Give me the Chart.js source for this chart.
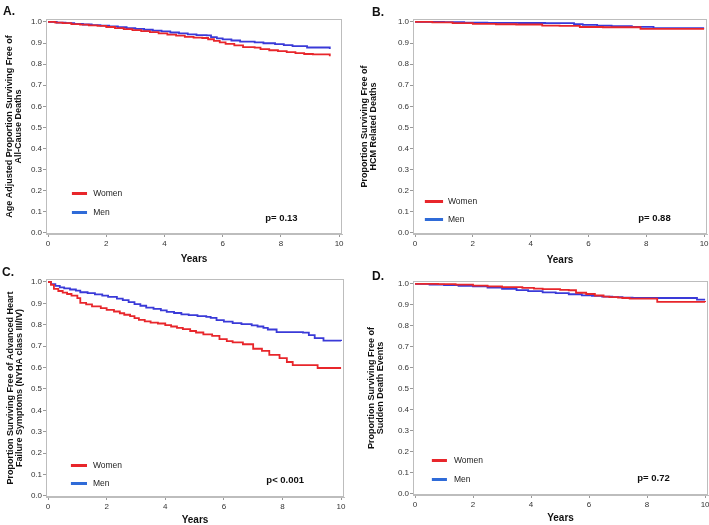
<!DOCTYPE html>
<html>
<head>
<meta charset="utf-8">
<script src="https://cdn.jsdelivr.net/npm/chart.js"></script>
<style>
  body { margin: 0; background: #fff; overflow: hidden; }
  #wrap { position: relative; width: 709px; height: 525px; background: #fff; }
  canvas { position: absolute; }
  .tag { position: absolute; font: bold 12px "Liberation Sans", Arial, sans-serif; color: #111; }
</style>
</head>
<body>
<div id="wrap">
  <canvas id="panelA" width="350" height="265" style="left:0;top:0"></canvas>
  <canvas id="panelB" width="354" height="265" style="left:355px;top:0"></canvas>
  <canvas id="panelC" width="350" height="263" style="left:0;top:262px"></canvas>
  <canvas id="panelD" width="354" height="263" style="left:355px;top:262px"></canvas>
  <div class="tag" style="left:3px;top:4px">A.</div>
  <div class="tag" style="left:372px;top:5px">B.</div>
  <div class="tag" style="left:2px;top:265px">C.</div>
  <div class="tag" style="left:372px;top:269px">D.</div>
</div>
<script>
// ejes
const xTicks = [0, 2, 4, 6, 8, 10];
const yTicks = [0, 0.1, 0.2, 0.3, 0.4, 0.5, 0.6, 0.7, 0.8, 0.9, 1.0];
const seriesNames = ['Women', 'Men'];

// A. muertes por cualquier causa (ajustado por edad)
const aWomenT = [0, 0.25, 0.5, 0.8, 1.1, 1.4, 1.7, 2.0, 2.3, 2.6, 2.9, 3.2, 3.5, 3.8, 4.1, 4.4, 4.7, 5.0, 5.3, 5.5, 5.7, 5.9, 6.1, 6.4, 6.7, 7.1, 7.3, 7.6, 7.9, 8.2, 8.5, 8.8, 9.1, 9.68];
const aWomenS = [1, 0.997, 0.994, 0.990, 0.987, 0.984, 0.981, 0.976, 0.971, 0.966, 0.961, 0.957, 0.952, 0.946, 0.940, 0.935, 0.929, 0.926, 0.924, 0.918, 0.910, 0.903, 0.896, 0.889, 0.881, 0.878, 0.871, 0.866, 0.862, 0.857, 0.852, 0.848, 0.846, 0.838];
const aMenT = [0, 0.3, 0.6, 0.9, 1.2, 1.5, 1.8, 2.1, 2.4, 2.7, 3.0, 3.3, 3.6, 3.9, 4.2, 4.5, 4.8, 5.1, 5.45, 5.6, 5.8, 6.0, 6.3, 6.6, 7.1, 7.4, 7.8, 8.1, 8.4, 8.9, 9.68];
const aMenS = [1, 0.997, 0.994, 0.991, 0.988, 0.985, 0.983, 0.979, 0.975, 0.971, 0.967, 0.963, 0.959, 0.955, 0.950, 0.946, 0.941, 0.938, 0.936, 0.928, 0.922, 0.917, 0.912, 0.907, 0.903, 0.899, 0.895, 0.890, 0.885, 0.879, 0.872];

// B. muertes relacionadas con MCH
const bWomenT = [0, 0.6, 1.3, 2.0, 2.8, 3.5, 4.4, 5.0, 5.7, 6.5, 7.8, 10];
const bWomenS = [1, 0.998, 0.994, 0.991, 0.989, 0.988, 0.983, 0.981, 0.976, 0.975, 0.967, 0.967];
const bMenT = [0, 1.0, 1.7, 2.5, 3.6, 4.5, 5.5, 5.8, 6.3, 6.8, 7.5, 8.25, 10];
const bMenS = [1, 0.999, 0.997, 0.996, 0.995, 0.994, 0.990, 0.986, 0.983, 0.980, 0.977, 0.971, 0.971];

// C. insuficiencia cardiaca avanzada
const cWomenT = [0, 0.1, 0.2, 0.35, 0.5, 0.65, 0.8, 1.0, 1.1, 1.3, 1.5, 1.8, 2.0, 2.25, 2.45, 2.6, 2.8, 2.95, 3.1, 3.3, 3.5, 3.75, 4.0, 4.2, 4.4, 4.6, 4.85, 5.05, 5.3, 5.6, 5.85, 6.1, 6.3, 6.65, 7.0, 7.3, 7.55, 7.9, 8.15, 8.35, 9.2, 10];
const cWomenS = [1, 0.987, 0.968, 0.958, 0.950, 0.944, 0.936, 0.925, 0.902, 0.895, 0.886, 0.878, 0.870, 0.862, 0.854, 0.847, 0.840, 0.831, 0.823, 0.816, 0.810, 0.806, 0.798, 0.792, 0.786, 0.780, 0.771, 0.764, 0.755, 0.748, 0.733, 0.724, 0.718, 0.709, 0.688, 0.678, 0.659, 0.644, 0.626, 0.611, 0.598, 0.598];
const cMenT = [0, 0.1, 0.25, 0.4, 0.55, 0.75, 0.95, 1.1, 1.35, 1.6, 1.85, 2.05, 2.35, 2.55, 2.75, 2.95, 3.15, 3.35, 3.6, 3.85, 4.05, 4.3, 4.55, 4.8, 5.1, 5.4, 5.55, 5.75, 6.0, 6.3, 6.6, 6.95, 7.15, 7.35, 7.5, 7.8, 8.7, 8.9, 9.1, 9.4, 10];
const cMenS = [1, 0.990, 0.982, 0.975, 0.970, 0.965, 0.960, 0.952, 0.948, 0.942, 0.936, 0.930, 0.922, 0.915, 0.906, 0.897, 0.889, 0.880, 0.874, 0.867, 0.860, 0.855, 0.849, 0.845, 0.840, 0.837, 0.832, 0.822, 0.815, 0.808, 0.803, 0.797, 0.792, 0.786, 0.778, 0.766, 0.763, 0.752, 0.738, 0.726, 0.724];

// D. eventos de muerte subita
const dWomenT = [0, 0.8, 1.4, 2.0, 2.5, 3.0, 3.7, 4.1, 4.4, 5.0, 5.3, 5.55, 5.9, 6.2, 6.5, 6.7, 7.0, 7.15, 7.4, 8.35, 10];
const dWomenS = [1, 0.999, 0.997, 0.992, 0.988, 0.985, 0.981, 0.978, 0.975, 0.972, 0.970, 0.958, 0.952, 0.945, 0.940, 0.937, 0.935, 0.933, 0.930, 0.915, 0.914];
const dMenT = [0, 0.5, 1.0, 1.5, 2.0, 2.5, 3.0, 3.5, 3.9, 4.4, 4.85, 5.3, 5.75, 6.1, 6.45, 6.8, 7.15, 7.5, 9.72, 10];
const dMenS = [1, 0.997, 0.994, 0.991, 0.988, 0.983, 0.977, 0.971, 0.966, 0.960, 0.956, 0.951, 0.946, 0.943, 0.940, 0.937, 0.935, 0.933, 0.925, 0.925];

const pValues = ['p= 0.13', 'p= 0.88', 'p< 0.001', 'p= 0.72'];

const rojo = '#e8262b';
const azul = '#3a3ad8';
const azulLeyenda = '#2f6bd8';
const fuente = '"Liberation Sans", Arial, sans-serif';

function puntos(t, s) {
  return t.map((v, i) => ({ x: v, y: s[i] }));
}

// caja gris, leyenda dentro del area y valor p
const extras = {
  id: 'extras',
  afterDraw(chart) {
    const c = chart.ctx, a = chart.chartArea, o = chart.options.plugins.extras;
    const sx = chart.scales.x, sy = chart.scales.y;
    c.save();
    c.strokeStyle = '#bdbdbd';
    c.lineWidth = 1;
    c.strokeRect(a.left + 0.5, a.top + 0.5, a.right - a.left - 1, a.bottom - a.top - 1);
    const filas = [[rojo, o.yW], [azulLeyenda, o.yM]];
    filas.forEach(([col, yv], i) => {
      const y = Math.round(sy.getPixelForValue(yv)) + 0.5;
      c.strokeStyle = col;
      c.lineWidth = 3;
      c.beginPath();
      c.moveTo(sx.getPixelForValue(o.x0), y);
      c.lineTo(sx.getPixelForValue(o.x1), y);
      c.stroke();
      c.fillStyle = '#222';
      c.font = '8.5px ' + fuente;
      c.textBaseline = 'middle';
      c.fillText(seriesNames[i], sx.getPixelForValue(o.tx), y);
    });
    c.font = 'bold 9.5px ' + fuente;
    c.fillStyle = '#111';
    c.fillText(o.p, sx.getPixelForValue(o.px), sy.getPixelForValue(o.py));
    c.restore();
  }
};

function panel(id, women, men, yTitle, L) {
  new Chart(document.getElementById(id), {
    type: 'line',
    data: {
      datasets: [
        { label: 'Women', data: women, borderColor: rojo, borderWidth: 1.8, stepped: 'before', pointRadius: 0, fill: false },
        { label: 'Men', data: men, borderColor: azul, borderWidth: 1.8, stepped: 'before', pointRadius: 0, fill: false }
      ]
    },
    options: {
      responsive: false,
      animation: false,
      layout: { padding: { top: L.top, right: L.right, left: 0, bottom: 0 } },
      plugins: { legend: { display: false }, tooltip: { enabled: false }, extras: L.extras },
      scales: {
        x: {
          type: 'linear', min: -0.07, max: 10.1,
          afterBuildTicks: s => { s.ticks = xTicks.map(v => ({ value: v })); },
          afterFit: s => { s.height = L.xH; s.paddingLeft = 0; s.paddingRight = 0; },
          grid: { drawOnChartArea: false, tickLength: 3, color: '#999' },
          border: { color: '#bdbdbd' },
          ticks: { font: { size: 8, family: fuente }, color: '#333', padding: 2, maxRotation: 0, autoSkip: false, callback: v => String(v) },
          title: { display: true, text: 'Years', color: '#111', font: { size: 10, weight: 'bold', family: fuente, lineHeight: 1 }, padding: { top: 0, bottom: L.yearsPad } }
        },
        y: {
          type: 'linear', min: -0.005, max: 1.014,
          afterBuildTicks: s => { s.ticks = yTicks.map(v => ({ value: v })); },
          afterFit: s => { s.width = L.yW; s.paddingTop = 0; s.paddingBottom = 0; },
          grid: { drawOnChartArea: false, tickLength: 3, color: '#999' },
          border: { color: '#bdbdbd' },
          ticks: { font: { size: 8, family: fuente }, color: '#333', padding: 1, callback: v => v.toFixed(1) },
          title: { display: true, text: yTitle, color: '#111', font: { size: 9, weight: 'bold', family: fuente, lineHeight: 1 }, padding: { top: L.titlePad, bottom: 0 } }
        }
      }
    },
    plugins: [extras]
  });
}

panel('panelA', puntos(aWomenT, aWomenS), puntos(aMenT, aMenS),
  ['Age Adjusted Proportion Surviving Free of', 'All-Cause Deaths'],
  { top: 19, right: 8, yW: 46, xH: 31, yearsPad: 1, titlePad: 5,
    extras: { x0: 0.82, x1: 1.34, tx: 1.55, yW: 0.19, yM: 0.10, p: pValues[0], px: 7.46, py: 0.071 } });

panel('panelB', puntos(bWomenT, bWomenS), puntos(bMenT, bMenS),
  ['Proportion Surviving Free of', 'HCM Related Deaths'],
  { top: 19, right: 2, yW: 58, xH: 31, yearsPad: 0, titlePad: 5.5,
    extras: { x0: 0.34, x1: 0.97, tx: 1.14, yW: 0.152, yM: 0.066, p: pValues[1], px: 7.72, py: 0.071 } });

panel('panelC', puntos(cWomenT, cWomenS), puntos(cMenT, cMenS),
  ['Proportion Surviving Free of Advanced Heart', 'Failure Symptoms (NYHA class III/IV)'],
  { top: 17, right: 6, yW: 46, xH: 28, yearsPad: 0, titlePad: 6.5,
    extras: { x0: 0.78, x1: 1.33, tx: 1.53, yW: 0.145, yM: 0.061, p: pValues[2], px: 7.45, py: 0.075 } });

panel('panelD', puntos(dWomenT, dWomenS), puntos(dMenT, dMenS),
  ['Proportion Surviving Free of', 'Sudden Death Events'],
  { top: 19, right: 1, yW: 58, xH: 30, yearsPad: 2, titlePad: 12,
    extras: { x0: 0.58, x1: 1.1, tx: 1.34, yW: 0.162, yM: 0.071, p: pValues[3], px: 7.66, py: 0.076 } });
</script>
</body>
</html>
